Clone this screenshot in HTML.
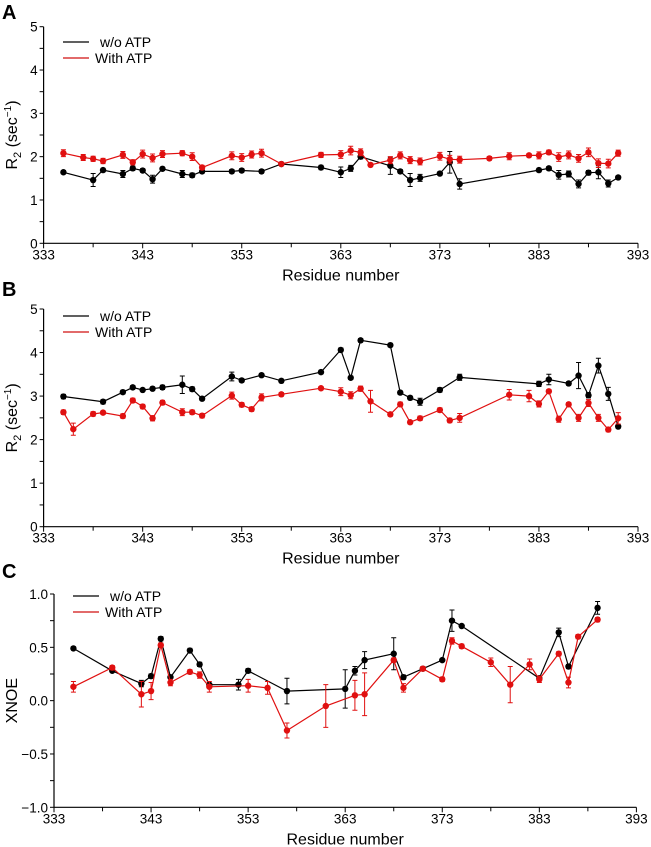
<!DOCTYPE html>
<html><head><meta charset="utf-8"><style>
body{margin:0;background:#fff;}
svg{display:block;font-family:"Liberation Sans",Arial,sans-serif;}
</style></head><body>
<svg id="chart" width="651" height="847" viewBox="0 0 651 847" xmlns="http://www.w3.org/2000/svg"></svg>
<script>
// Panel A: R2
const resA_black=[335,338,339,341,342,343,344,345,347,348,349,352,353,355,357,361,363,364,365,368,369,370,371,373,374,375,383,384,385,386,387,388,389,390,391];
const valA_black=[1.64,1.46,1.69,1.6,1.73,1.68,1.48,1.72,1.6,1.57,1.66,1.66,1.68,1.66,1.83,1.75,1.64,1.73,2.0,1.79,1.66,1.46,1.51,1.61,1.87,1.37,1.69,1.73,1.58,1.6,1.37,1.63,1.64,1.38,1.52];
const errA_black=[0.04,0.15,0.04,0.08,0.05,0.04,0.09,0.04,0.08,0.05,0.04,0.04,0.04,0.04,0.03,0.05,0.12,0.07,0.05,0.2,0.04,0.15,0.08,0.04,0.25,0.12,0.04,0.04,0.1,0.07,0.09,0.05,0.15,0.08,0.04];
const resA_red=[335,337,338,339,341,342,343,344,345,347,348,349,352,353,354,355,357,361,363,364,365,366,368,369,370,371,373,374,375,378,380,382,383,384,385,386,387,388,389,390,391];
const valA_red=[2.08,1.98,1.95,1.9,2.04,1.87,2.06,1.97,2.06,2.08,2.0,1.75,2.02,1.98,2.05,2.08,1.83,2.04,2.05,2.14,2.1,1.81,1.92,2.03,1.92,1.89,2.01,1.94,1.93,1.96,2.01,2.03,2.03,2.1,1.99,2.04,1.96,2.1,1.85,1.84,2.08];
const errA_red=[0.08,0.07,0.06,0.06,0.08,0.06,0.09,0.09,0.08,0.06,0.09,0.05,0.09,0.09,0.08,0.09,0.03,0.06,0.09,0.1,0.08,0.04,0.08,0.08,0.08,0.08,0.09,0.09,0.08,0.04,0.08,0.04,0.08,0.05,0.1,0.09,0.09,0.1,0.1,0.1,0.07];
// Panel B: R2
const resB_black=[335,339,341,342,343,344,345,347,348,349,352,353,355,357,361,363,364,365,368,369,370,371,373,375,383,384,386,387,388,389,390,391];
const valB_black=[2.99,2.87,3.09,3.2,3.14,3.17,3.2,3.26,3.16,2.94,3.45,3.36,3.48,3.35,3.55,4.06,3.42,4.28,4.17,3.08,2.96,2.87,3.14,3.43,3.28,3.38,3.29,3.47,3.02,3.7,3.05,2.3];
const errB_black=[0.05,0.05,0.04,0.04,0.03,0.04,0.05,0.2,0.05,0.04,0.1,0.04,0.04,0.04,0.04,0.04,0.04,0.04,0.04,0.04,0.04,0.08,0.05,0.07,0.06,0.12,0.04,0.3,0.06,0.17,0.15,0.04];
const resB_red=[335,336,338,339,341,342,343,344,345,347,348,349,352,353,354,355,357,361,363,364,365,366,368,369,370,371,373,374,375,380,382,383,384,385,386,387,388,389,390,391];
const valB_red=[2.63,2.24,2.59,2.62,2.54,2.9,2.76,2.49,2.85,2.63,2.63,2.55,3.01,2.8,2.7,2.97,3.04,3.18,3.1,3.02,3.17,2.88,2.58,2.81,2.4,2.49,2.68,2.44,2.5,3.03,3.0,2.82,3.11,2.47,2.81,2.5,2.84,2.5,2.23,2.49];
const errB_red=[0.05,0.14,0.05,0.04,0.05,0.05,0.05,0.06,0.05,0.08,0.05,0.05,0.08,0.05,0.05,0.08,0.04,0.04,0.09,0.08,0.06,0.25,0.04,0.05,0.04,0.05,0.05,0.05,0.1,0.12,0.13,0.07,0.04,0.07,0.04,0.08,0.08,0.08,0.05,0.13];
// Panel C: XNOE
const resC_black=[335,339,342,343,344,345,347,348,349,352,353,357,363,364,365,368,369,371,373,374,375,383,385,386,389];
const valC_black=[0.49,0.28,0.16,0.23,0.58,0.22,0.47,0.34,0.15,0.15,0.28,0.09,0.11,0.28,0.38,0.44,0.22,0.3,0.38,0.75,0.7,0.21,0.64,0.32,0.87];
const errC_black=[0.01,0.01,0.03,0.02,0.02,0.01,0.02,0.02,0.01,0.05,0.02,0.12,0.18,0.04,0.08,0.15,0.02,0.01,0.01,0.1,0.01,0.01,0.04,0.02,0.06];
const resC_red=[335,339,342,343,344,345,347,348,349,353,355,357,361,364,365,368,369,371,373,374,375,378,380,382,383,385,386,387,389];
const valC_red=[0.13,0.31,0.06,0.09,0.52,0.17,0.27,0.24,0.13,0.14,0.12,-0.28,-0.05,0.05,0.06,0.38,0.12,0.3,0.2,0.56,0.51,0.36,0.15,0.34,0.2,0.44,0.17,0.6,0.76];
const errC_red=[0.05,0.02,0.12,0.08,0.02,0.03,0.02,0.03,0.05,0.06,0.06,0.07,0.2,0.14,0.2,0.02,0.04,0.02,0.02,0.03,0.02,0.04,0.17,0.05,0.03,0.02,0.05,0.02,0.02];
const xTickLabels=["333","343","353","363","373","383","393"];
const yTicksR2=["0","1","2","3","4","5"];
const yTicksNOE=["−1.0","−0.5","0.0","0.5","1.0"];

const NS="http://www.w3.org/2000/svg";
const svg=document.getElementById('chart');
function mk(tag,attrs,parent,text){const e=document.createElementNS(NS,tag);for(const k in attrs)e.setAttribute(k,attrs[k]);if(text!==undefined)e.textContent=text;(parent||svg).appendChild(e);return e;}

function panel(p){
  const g=mk('g',{});
  
  
  const xs=r=>p.x0+(r-333)*(p.x1-p.x0)/60;
  const ys=v=>p.yb+(v-p.ymin)*(p.yt-p.yb)/(p.ymax-p.ymin);
  const lt=mk('text',{x:p.letterX,y:p.letterY,'font-size':20,'font-weight':'bold',fill:'#000'},g,p.letter);
  
  
  // axes
  const ax=mk('path',{d:`M${p.x0},${p.yt} V${p.yb} H${p.x1}`,stroke:'#000','stroke-width':1.2,fill:'none'},g);
  
  
  // x ticks
  for(let r=333;r<=393;r+=5){
    const major=(r-333)%10===0;
    mk('line',{x1:xs(r),x2:xs(r),y1:p.yb,y2:p.yb+(major?5:4),stroke:'#000','stroke-width':1},g);
  }
  xTickLabels.forEach(t=>{
    const tl=mk('text',{x:xs(+t),y:p.yb+16,'font-size':13.5,'text-anchor':'middle',fill:'#000'},g,t);
    
    
  });
  const xt=mk('text',{x:(p.x0+p.x1)/2,y:p.yb+37,'font-size':16,'text-anchor':'middle',fill:'#000'},g,'Residue number');
  
  
  // y ticks
  const step=p.yStep/2;
  for(let v=p.ymin;v<=p.ymax+1e-9;v+=step){
    mk('line',{x1:p.x0-4,x2:p.x0,y1:ys(v),y2:ys(v),stroke:'#000','stroke-width':1},g);
  }
  p.yLabels.forEach(t=>{
    const v=parseFloat(t.replace('−','-'));
    const tl=mk('text',{x:p.x0-6,y:ys(v)+5,'font-size':13.5,'text-anchor':'end',fill:'#000'},g,t);
    
    
  });
  const ycy=(p.yt+p.yb)/2;
  const yt=mk('text',{x:0,y:0,'font-size':16,'text-anchor':'middle',fill:'#000',transform:`translate(17,${ycy}) rotate(-90)`},g);
  
  
  if(p.isR2){
    mk('tspan',{},yt,'R');mk('tspan',{'font-size':11,dy:4},yt,'2');mk('tspan',{dy:-4},yt,' (sec');mk('tspan',{'font-size':10,dy:-6},yt,'−1');mk('tspan',{dy:6},yt,')');
  } else yt.textContent='XNOE';
  // series
  p.series.forEach(s=>{
    const sg=mk('g',{},g);
    
    
    const d=s.res.map((r,i)=>(i?'L':'M')+xs(r).toFixed(1)+','+ys(s.val[i]).toFixed(1)).join(' ');
    mk('path',{d,stroke:s.color,'stroke-width':1.2,fill:'none'},sg);
    s.res.forEach((r,i)=>{
      const x=xs(r),y1=ys(s.val[i]+s.err[i]),y2=ys(s.val[i]-s.err[i]);
      mk('path',{d:`M${x},${y1} V${y2} M${x-2.5},${y1} H${x+2.5} M${x-2.5},${y2} H${x+2.5}`,stroke:s.color,'stroke-width':1,fill:'none'},sg);
      const c=mk('circle',{cx:x,cy:ys(s.val[i]),r:3.2,fill:s.color},sg);
      
      
    });
  });
  // legend
  const lg=mk('g',{},g);
  
  
  [['w/o ATP','#000',p.legY, 5],['With ATP','#d01010',p.legY+16,0]].forEach(([t,c,y,o])=>{
    mk('line',{x1:p.legX,x2:p.legX+26,y1:y,y2:y,stroke:c,'stroke-width':1.3},lg);
    const tx=mk('text',{x:p.legX+32+o,y:y+5,'font-size':14,fill:'#000'},lg,t);
    
    
  });
}
const BLK='#000',RED='#e01010';
panel({id:'panel-a',letter:'A',letterX:2,letterY:19,x0:43.6,x1:638,yt:26.7,yb:243.3,ymin:0,ymax:5,yStep:1,yLabels:yTicksR2,isR2:true,legX:63,legY:42,
  series:[{name:'series-without-atp',res:resA_black,val:valA_black,err:errA_black,color:BLK},{name:'series-with-atp',res:resA_red,val:valA_red,err:errA_red,color:RED}]});
panel({id:'panel-b',letter:'B',letterX:2,letterY:296,x0:43.6,x1:638,yt:309,yb:526.7,ymin:0,ymax:5,yStep:1,yLabels:yTicksR2,isR2:true,legX:63,legY:316,
  series:[{name:'series-without-atp',res:resB_black,val:valB_black,err:errB_black,color:BLK},{name:'series-with-atp',res:resB_red,val:valB_red,err:errB_red,color:RED}]});
panel({id:'panel-c',letter:'C',letterX:2,letterY:578,x0:54,x1:636.4,yt:594,yb:807.3,ymin:-1,ymax:1,yStep:0.5,yLabels:yTicksNOE,isR2:false,legX:73,legY:596,
  series:[{name:'series-without-atp',res:resC_black,val:valC_black,err:errC_black,color:BLK},{name:'series-with-atp',res:resC_red,val:valC_red,err:errC_red,color:RED}]});
</script>
</body></html>
